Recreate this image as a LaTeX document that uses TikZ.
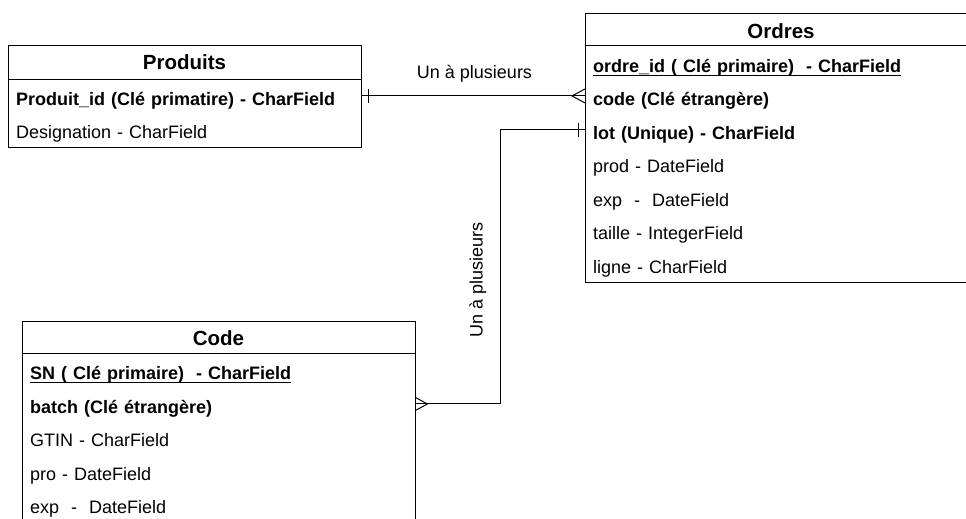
\documentclass[tikz,border=0pt]{standalone}
\usepackage{fontspec}
\setmainfont{Liberation Sans}
% underline for primary-key fields, drawn just below the baseline
\newcommand\keyline[1]{\setbox0=\hbox{#1}\rlap{\rule[-3.6pt]{\wd0}{1.1pt}}\box0}
\begin{document}
\begin{tikzpicture}[x=1pt,y=-1pt,
  table/.style={draw, line width=1pt, rectangle, inner sep=0pt, anchor=north west},
  field/.style={anchor=north west, inner xsep=8pt, inner ysep=0pt,
    minimum height=33.5pt, text height=18.6pt, text depth=0pt, align=left,
    font=\fontsize{18}{21.6}\selectfont},
  keyfield/.style={field, font=\fontsize{18}{21.6}\selectfont\bfseries},
  title/.style={anchor=base, inner sep=0pt, font=\fontsize{20.5}{24}\selectfont\bfseries},
  rel/.style={draw, line width=1pt},
  relnote/.style={anchor=base, inner sep=0pt, font=\fontsize{18}{21.6}\selectfont}]
\useasboundingbox (0,0) rectangle (966,519);
\clip (0,0) rectangle (966,519);

% ---------- Produits ----------
\node[table, minimum width=353pt, minimum height=102pt] (produits) at (8,45) {};
\draw[rel] ([yshift=-34pt]produits.north west) -- ([yshift=-34pt]produits.north east);
\node[title] (produitsT) at (184.5,70) {Produits};
\node[keyfield, text width=337pt] (pId) at (8,79) {Produit\_id (Clé primatire) - CharField};
\node[field, text width=337pt] (pDes) at (8,112.5) {Designation - CharField};

% ---------- Ordres ----------
\node[table, minimum width=392pt, minimum height=269pt] (ordres) at (585,13) {};
\draw[rel] ([yshift=-33pt]ordres.north west) -- ([yshift=-33pt]ordres.north east);
\node[title] (ordresT) at (781,38) {Ordres};
\node[keyfield, text width=376pt] (oId) at (585,46) {\keyline{ordre\_id ( Clé primaire)\ \ - CharField}};
\node[keyfield, text width=376pt] (oCode) at (585,79.5) {code (Clé étrangère)};
\node[keyfield, text width=376pt] (oLot) at (585,113) {lot (Unique) - CharField};
\node[field, text width=376pt] (oProd) at (585,146.5) {prod - DateField};
\node[field, text width=376pt] (oExp) at (585,180) {exp\ \ -\ \ DateField};
\node[field, text width=376pt] (oTaille) at (585,213.5) {taille - IntegerField};
\node[field, text width=376pt] (oLigne) at (585,247) {ligne - CharField};

% ---------- Code ----------
\node[table, minimum width=393pt, minimum height=240pt] (code) at (22,321) {};
\draw[rel] ([yshift=-32.5pt]code.north west) -- ([yshift=-32.5pt]code.north east);
\node[title] (codeT) at (218.5,345) {Code};
\node[keyfield, text width=377pt] (cSN) at (22,353.5) {\keyline{SN ( Clé primaire)\ \ - CharField}};
\node[keyfield, text width=377pt] (cBatch) at (22,387) {batch (Clé étrangère)};
\node[field, text width=377pt] (cGtin) at (22,420.5) {GTIN - CharField};
\node[field, text width=377pt] (cPro) at (22,454) {pro - DateField};
\node[field, text width=377pt] (cExp) at (22,487.5) {exp\ \ -\ \ DateField};

% ---------- Produits -> Ordres (one to many) ----------
\coordinate (r1end) at (pId.east -| oCode.west);
\draw[rel] (pId.east) -- (r1end);
\draw[rel] ([xshift=7pt,yshift=7pt]pId.east) -- ([xshift=7pt,yshift=-7pt]pId.east);
\draw[rel] ([yshift=7pt]r1end) -- ([xshift=-13pt]r1end) -- ([yshift=-7pt]r1end);
\node[relnote] (r1note) at (474.5,78) {Un à plusieurs};

% ---------- Ordres -> Code (one to many) ----------
\coordinate (bend) at (500,0);
\draw[rel] (oLot.west) -- (oLot.west -| bend) |- (cBatch.east);
\draw[rel] ([xshift=-7pt,yshift=7pt]oLot.west) -- ([xshift=-7pt,yshift=-7pt]oLot.west);
\draw[rel] ([yshift=6.5pt]cBatch.east) -- ([xshift=12pt]cBatch.east) -- ([yshift=-6.5pt]cBatch.east);
\node[relnote, rotate=90] (r2note) at (482.5,279.5) {Un à plusieurs};
\end{tikzpicture}
\end{document}
